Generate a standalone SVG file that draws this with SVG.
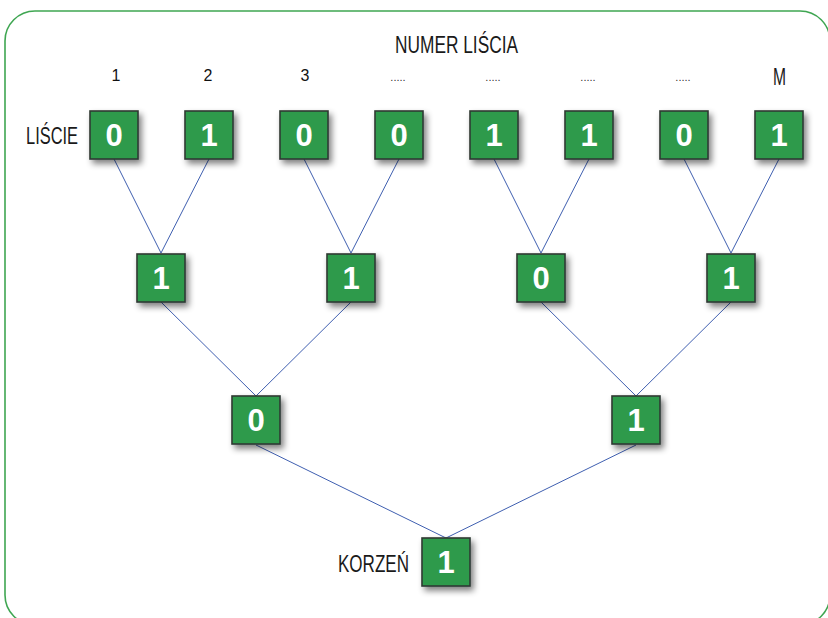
<svg xmlns="http://www.w3.org/2000/svg" width="828" height="618" viewBox="0 0 828 618">
  <style>
    .frame { fill: #ffffff; stroke: #3fa652; stroke-width: 1.6; }
    .edge { stroke: #3f5fb0; stroke-width: 1; fill: none; }
    .box { fill: #2e9a4c; stroke: #2e3a32; stroke-width: 1.6; filter: url(#shadow); }
    .bit { font-family: "Liberation Sans", Arial, sans-serif; font-weight: bold; font-size: 31px; fill: #ffffff; text-anchor: middle; }
    .label { font-family: "Liberation Sans", Arial, sans-serif; font-size: 24px; fill: #1a1a1a; }
    .num { font-family: "Liberation Sans", Arial, sans-serif; font-size: 16px; fill: #111111; text-anchor: middle; }
    .dots { font-family: "Liberation Sans", Arial, sans-serif; font-size: 11px; fill: #333333; text-anchor: middle; }
  </style>
  <defs>
    <filter id="shadow" x="-30%" y="-30%" width="170%" height="170%">
      <feGaussianBlur in="SourceAlpha" stdDeviation="3"/>
      <feOffset dx="3" dy="4" result="blur"/>
      <feComponentTransfer><feFuncA type="linear" slope="0.5"/></feComponentTransfer>
      <feMerge><feMergeNode/><feMergeNode in="SourceGraphic"/></feMerge>
    </filter>
    <rect id="node" x="-24" y="-24" width="48" height="48" class="box"/>
  </defs>

  <rect class="frame" x="5" y="11" width="825" height="614" rx="30" ry="30"/>

  <!-- headings -->
  <text class="label" x="395" y="53" textLength="123" lengthAdjust="spacingAndGlyphs">NUMER LIŚCIA</text>
  <text class="label" x="26" y="144" textLength="52" lengthAdjust="spacingAndGlyphs">LIŚCIE</text>
  <text class="label" x="338" y="572" textLength="71" lengthAdjust="spacingAndGlyphs">KORZEŃ</text>

  <!-- leaf numbers -->
  <text class="num" x="116" y="81">1</text>
  <text class="num" x="208" y="81">2</text>
  <text class="num" x="305" y="81">3</text>
  <text class="dots" x="398" y="81">.....</text>
  <text class="dots" x="493" y="81">.....</text>
  <text class="dots" x="588" y="81">.....</text>
  <text class="dots" x="683" y="81">.....</text>
  <text class="label" x="773" y="85" textLength="13" lengthAdjust="spacingAndGlyphs">M</text>

  <!-- connectors -->
  <g id="edges">
    <line class="edge" x1="114" y1="159" x2="161" y2="253"/>
    <line class="edge" x1="209" y1="159" x2="161" y2="253"/>
    <line class="edge" x1="304" y1="159" x2="351" y2="253"/>
    <line class="edge" x1="399" y1="159" x2="351" y2="253"/>
    <line class="edge" x1="494" y1="159" x2="541" y2="253"/>
    <line class="edge" x1="589" y1="159" x2="541" y2="253"/>
    <line class="edge" x1="684" y1="159" x2="731" y2="253"/>
    <line class="edge" x1="779" y1="159" x2="731" y2="253"/>
    <line class="edge" x1="161" y1="302" x2="256" y2="396"/>
    <line class="edge" x1="351" y1="302" x2="256" y2="396"/>
    <line class="edge" x1="541" y1="302" x2="636" y2="396"/>
    <line class="edge" x1="731" y1="302" x2="636" y2="396"/>
    <line class="edge" x1="256" y1="445" x2="446" y2="538"/>
    <line class="edge" x1="636" y1="445" x2="446" y2="538"/>
  </g>

  <!-- leaves -->
  <g id="leaf1" transform="translate(114,135)"><use href="#node"/><text class="bit" y="11">0</text></g>
  <g id="leaf2" transform="translate(209,135)"><use href="#node"/><text class="bit" y="11">1</text></g>
  <g id="leaf3" transform="translate(304,135)"><use href="#node"/><text class="bit" y="11">0</text></g>
  <g id="leaf4" transform="translate(399,135)"><use href="#node"/><text class="bit" y="11">0</text></g>
  <g id="leaf5" transform="translate(494,135)"><use href="#node"/><text class="bit" y="11">1</text></g>
  <g id="leaf6" transform="translate(589,135)"><use href="#node"/><text class="bit" y="11">1</text></g>
  <g id="leaf7" transform="translate(684,135)"><use href="#node"/><text class="bit" y="11">0</text></g>
  <g id="leaf8" transform="translate(779,135)"><use href="#node"/><text class="bit" y="11">1</text></g>

  <!-- second level -->
  <g id="n21" transform="translate(161,278)"><use href="#node"/><text class="bit" y="11">1</text></g>
  <g id="n22" transform="translate(351,278)"><use href="#node"/><text class="bit" y="11">1</text></g>
  <g id="n23" transform="translate(541,278)"><use href="#node"/><text class="bit" y="11">0</text></g>
  <g id="n24" transform="translate(731,278)"><use href="#node"/><text class="bit" y="11">1</text></g>

  <!-- third level -->
  <g id="n31" transform="translate(256,420)"><use href="#node"/><text class="bit" y="11">0</text></g>
  <g id="n32" transform="translate(636,420)"><use href="#node"/><text class="bit" y="11">1</text></g>

  <!-- root -->
  <g id="root" transform="translate(446,562)"><use href="#node"/><text class="bit" y="11">1</text></g>
</svg>
